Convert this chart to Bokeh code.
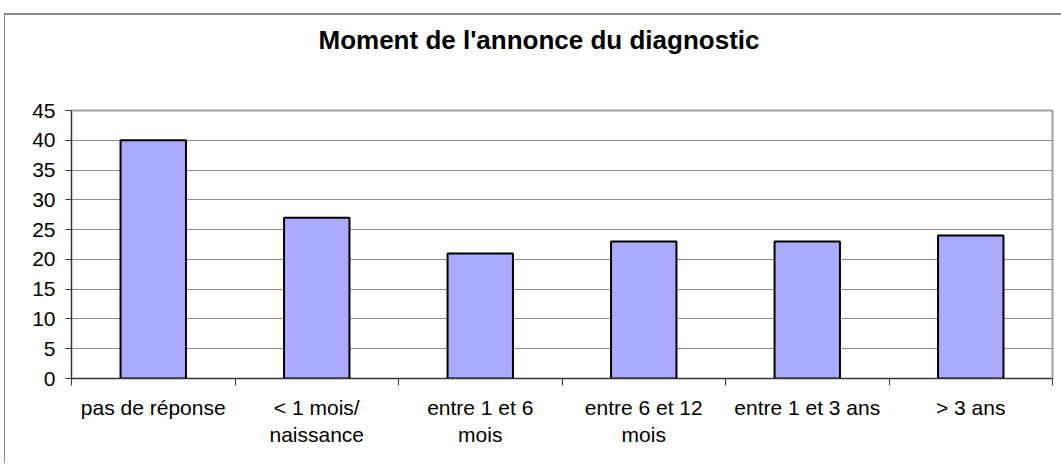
from bokeh.plotting import figure
from bokeh.models import FixedTicker, Range1d, Title
from bokeh.embed import file_html
from bokeh.resources import INLINE

categories = ["pas de réponse", "< 1 mois/\nnaissance", "entre 1 et 6\nmois",
              "entre 6 et 12\nmois", "entre 1 et 3 ans", "> 3 ans"]
values = [40, 27, 21, 23, 23, 24]
y_ticks = [0, 5, 10, 15, 20, 25, 30, 35, 40, 45]
title_text = "Moment de l'annonce du diagnostic"

centers = [i + 0.5 for i in range(len(categories))]
bounds = list(range(len(categories) + 1))

p = figure(width=1061, height=464, output_backend="svg", toolbar_location=None,
           x_range=Range1d(0, len(categories)), y_range=Range1d(0, 45),
           min_border_left=71, min_border_right=9, min_border_top=110,
           min_border_bottom=86)
p.title = None

# spacer (nearest the frame), then the real title
spacer = Title(text=" ", text_font_size="1px", standoff=48)
p.add_layout(spacer, "above")
t = Title(text=title_text, align="left", offset=247, standoff=10,
          text_font="Liberation Sans", text_font_size="26px",
          text_font_style="bold", text_color="black")
p.add_layout(t, "above")

p.background_fill_color = "white"
p.border_fill_color = None
p.styles = {
    "background-color": "white",
    "background-image": "linear-gradient(#8a8a8a, #8a8a8a), linear-gradient(#8a8a8a, #8a8a8a)",
    "background-size": "calc(100% - 4px) 2px, 1px calc(100% - 14px)",
    "background-position": "4px 13px, 4px 13px",
    "background-repeat": "no-repeat",
}

p.vbar(x=centers, top=values, width=0.4, fill_color="#AAAAFF",
       line_color="black", line_width=2)

p.xgrid.visible = False
p.ygrid.ticker = FixedTicker(ticks=y_ticks)
p.ygrid.grid_line_color = "#8c8c8c"
p.ygrid.grid_line_width = 1

p.outline_line_color = "#a0a0a0"
p.outline_line_width = 2

xa = p.xaxis[0]
xa.ticker = FixedTicker(ticks=centers, minor_ticks=bounds)
xa.major_label_overrides = {c: lab for c, lab in zip(centers, categories)}
xa.major_tick_line_color = None
xa.minor_tick_line_color = "#333333"
xa.minor_tick_out = 7
xa.minor_tick_in = 0
xa.axis_line_color = "#333333"
xa.axis_line_width = 1
xa.major_label_text_font = "Liberation Sans"
xa.major_label_text_font_size = "21px"
xa.major_label_text_color = "black"
xa.major_label_text_line_height = 1.2
xa.major_label_standoff = 10

ya = p.yaxis[0]
ya.ticker = FixedTicker(ticks=y_ticks)
ya.minor_tick_line_color = None
ya.major_tick_out = 6
ya.major_tick_in = 0
ya.major_tick_line_color = "#333333"
ya.axis_line_color = "#333333"
ya.major_label_text_font = "Liberation Sans"
ya.major_label_text_font_size = "21px"
ya.major_label_text_color = "black"
ya.major_label_standoff = 10

open("out.html", "w").write(file_html(p, INLINE))
